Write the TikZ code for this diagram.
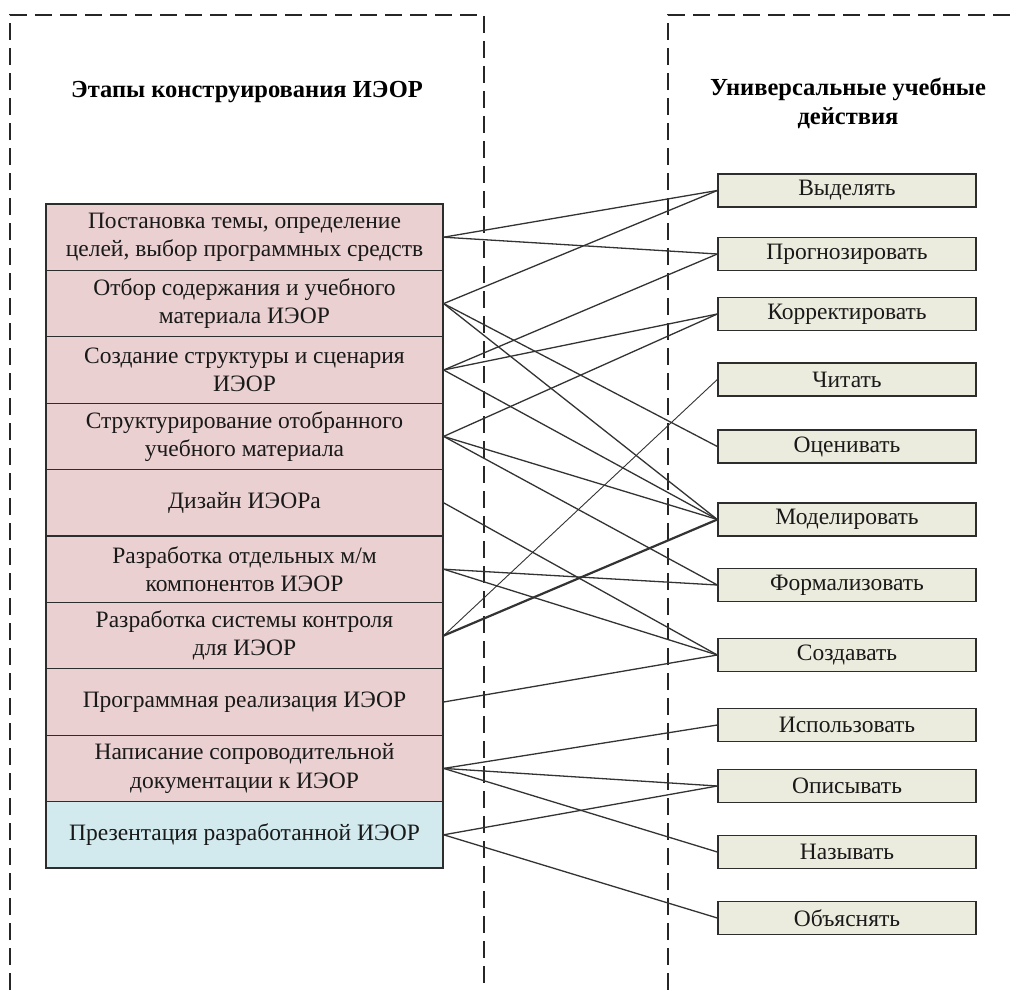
\documentclass[tikz,border=0pt]{standalone}
\usepackage{fontspec}
\setmainfont{Liberation Serif}
\definecolor{stagepink}{RGB}{234,208,208}
\definecolor{stageblue}{RGB}{210,234,238}
\definecolor{actbeige}{RGB}{236,236,222}
\definecolor{edgegray}{RGB}{45,45,45}
\begin{document}
\begin{tikzpicture}[x=1pt,y=-1pt,
  frame/.style={line width=2.2pt,dash pattern=on 17pt off 8pt,draw=black!85},
  stagebox/.style={draw=edgegray,line width=1.3pt,fill=stagepink,minimum width=397pt,minimum height=66.4pt,inner sep=0pt,align=center,font=\fontsize{23.5}{28.5}\selectfont,text=black!90},
  actbox/.style={draw=edgegray,line width=1.3pt,fill=actbeige,minimum width=258pt,minimum height=33pt,inner sep=0pt,font=\fontsize{23.5}{26}\selectfont,text=black!90},
  titletext/.style={font=\fontsize{24.5}{29}\selectfont\bfseries,align=center,text=black},
  link/.style={draw=black!80,line width=1.3pt}]
\useasboundingbox (0,0) rectangle (1015,990);
\fill[white] (0,0) rectangle (1015,990);
% dashed frames
\draw[frame] (10,990) -- (10,15) -- (484,15) -- (484,990);
\draw[frame] (668,990) -- (668,15) -- (1015,15);
% titles
\node[titletext] (tl) at (247,92) {Этапы конструирования ИЭОР};
\node[titletext] (tr) at (848,103) {Универсальные учебные\\действия};
% stages
\node[stagebox] (s1) at (244.5,237.2) {Постановка темы, определение\\целей, выбор программных средств};
\node[stagebox] (s2) at (244.5,303.6) {Отбор содержания и учебного\\материала ИЭОР};
\node[stagebox] (s3) at (244.5,370.0) {Создание структуры и сценария\\ИЭОР};
\node[stagebox] (s4) at (244.5,436.4) {Структурирование отобранного\\учебного материала};
\node[stagebox] (s5) at (244.5,502.8) {Дизайн ИЭОРа};
\node[stagebox] (s6) at (244.5,569.2) {Разработка отдельных м/м\\компонентов ИЭОР};
\node[stagebox] (s7) at (244.5,635.6) {Разработка системы контроля\\для ИЭОР};
\node[stagebox] (s8) at (244.5,702.0) {Программная реализация ИЭОР};
\node[stagebox] (s9) at (244.5,768.4) {Написание сопроводительной\\документации к ИЭОР};
\node[stagebox,fill=stageblue] (s10) at (244.5,834.8) {Презентация разработанной ИЭОР};
% actions
\node[actbox] (a1) at (847,190.5) {Выделять};
\node[actbox] (a2) at (847,254) {Прогнозировать};
\node[actbox] (a3) at (847,314) {Корректировать};
\node[actbox] (a4) at (847,379.5) {Читать};
\node[actbox] (a5) at (847,446.5) {Оценивать};
\node[actbox] (a6) at (847,519.5) {Моделировать};
\node[actbox] (a7) at (847,585) {Формализовать};
\node[actbox] (a8) at (847,655) {Создавать};
\node[actbox] (a9) at (847,725) {Использовать};
\node[actbox] (a10) at (847,786) {Описывать};
\node[actbox] (a11) at (847,852) {Называть};
\node[actbox] (a12) at (847,918) {Объяснять};
% links
\draw[link] (s1.east) -- (a1.west);
\draw[link] (s1.east) -- (a2.west);
\draw[link] (s2.east) -- (a1.west);
\draw[link] (s2.east) -- (a5.west);
\draw[link] (s2.east) -- (a6.west);
\draw[link] (s3.east) -- (a2.west);
\draw[link] (s3.east) -- (a3.west);
\draw[link] (s3.east) -- (a6.west);
\draw[link] (s4.east) -- (a3.west);
\draw[link] (s4.east) -- (a6.west);
\draw[link] (s4.east) -- (a7.west);
\draw[link] (s5.east) -- (a8.west);
\draw[link] (s6.east) -- (a7.west);
\draw[link] (s6.east) -- (a8.west);
\draw[link,line width=0.9pt] (s7.east) -- (a4.west);
\draw[link,line width=2.2pt] (s7.east) -- (a6.west);
\draw[link] (s8.east) -- (a8.west);
\draw[link] (s9.east) -- (a9.west);
\draw[link] (s9.east) -- (a10.west);
\draw[link] (s9.east) -- (a11.west);
\draw[link] (s10.east) -- (a10.west);
\draw[link] (s10.east) -- (a12.west);
\end{tikzpicture}
\end{document}
